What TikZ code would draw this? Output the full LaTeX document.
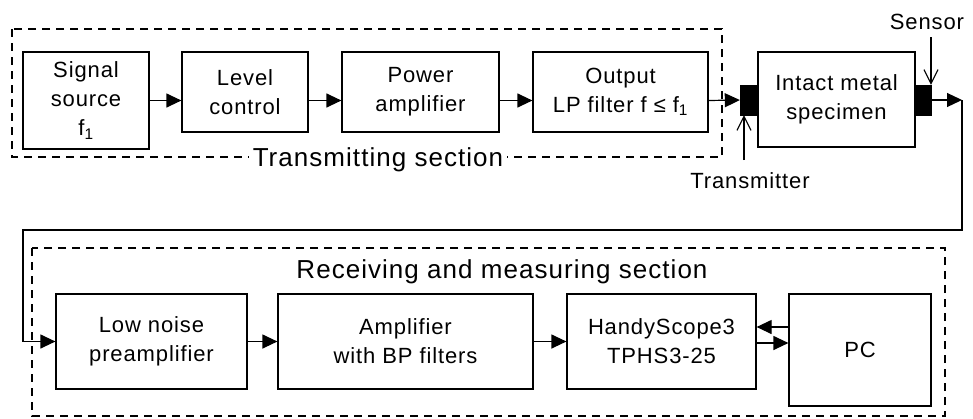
\documentclass[tikz,border=0pt]{standalone}
\usepackage{fontspec}
\setmainfont{Liberation Sans}[LetterSpace=4]
\usetikzlibrary{arrows.meta}
\begin{document}
\begin{tikzpicture}[x=1pt,y=-1pt,
  blk/.style={draw,line width=1.2pt,inner sep=0pt,align=center,font=\fontsize{22}{29}\selectfont},
  sensr/.style={draw,fill=black,inner sep=0pt},
  sect/.style={draw,dashed,line width=1.1pt,dash pattern=on 8pt off 6pt},
  arr/.style={line width=1.2pt,-{Triangle[length=15pt,width=14pt]}},
  barb/.style={line width=1.1pt,-{Straight Barb[length=14pt,width=14pt]}},
  lbl/.style={font=\fontsize{22}{29}\selectfont,inner sep=2pt},
  slbl/.style={font=\fontsize{26}{30}\selectfont,inner sep=4pt}]
\useasboundingbox (0,0) rectangle (973,418);
% sections
\draw[sect] (12,29) rectangle (722,157);
\draw[sect] (32,248) rectangle (945,416);
\node[slbl,fill=white,anchor=base] (tsec) at (378,166) {Transmitting section};
\node[slbl,anchor=base] (rsec) at (502,278) {Receiving and measuring section};
% top row
\node[blk,minimum width=126pt,minimum height=97pt] (sig) at (86,100.5) {Signal\\source\\f\textsubscript{1}};
\node[blk,minimum width=126pt,minimum height=80pt] (lev) at (245,92) {Level\\control};
\node[blk,minimum width=157pt,minimum height=80pt] (pow) at (420.5,92) {Power\\amplifier};
\node[blk,minimum width=175pt,minimum height=80pt] (out) at (620.5,92) {Output\\LP filter f ≤ f\textsubscript{1}};
\node[blk,minimum width=157pt,minimum height=95pt] (spec) at (836.5,99.5) {Intact metal\\specimen};
\node[sensr,minimum width=18pt,minimum height=30pt] (tx) at (749,100) {};
\node[sensr,minimum width=16pt,minimum height=30pt] (sen) at (923,100) {};
\node[lbl,anchor=base] (txl) at (750,188) {Transmitter};
\node[lbl,anchor=base] (senl) at (927,29) {Sensor};
% bottom row
\node[blk,minimum width=191pt,minimum height=95pt] (low) at (151.5,341.5) {Low noise\\preamplifier};
\node[blk,minimum width=255pt,minimum height=95pt] (amp) at (405.5,341.5) {Amplifier\\with BP filters};
\node[blk,minimum width=189pt,minimum height=95pt] (hs) at (661.5,341.5) {HandyScope3\\TPHS3-25};
\node[blk,minimum width=142pt,minimum height=112pt] (pc) at (860,350) {PC};
% connectors
\draw[arr] (sig.east) -- (sig.east -| lev.west);
\draw[arr] (lev.east |- sig.east) -- (pow.west |- sig.east);
\draw[arr] (pow.east |- sig.east) -- (out.west |- sig.east);
\draw[arr] (out.east |- sig.east) -- (tx.west);
\coordinate (c1) at (962,100);
\coordinate (c3) at (23,230);
\draw[arr] (sen.east) -- (c1);
\draw[arr] (c1) |- (c3) |- (low.west);
\draw[arr] (low.east) -- (amp.west);
\draw[arr] (amp.east) -- (hs.west);
\draw[arr] ([yshift=-1.5pt]hs.east) -- ([yshift=-1.5pt]hs.east -| pc.west);
\draw[arr] ([yshift=14.5pt]pc.west |- hs.east) -- ([yshift=14.5pt]hs.east);
\coordinate (tb) at (744,160);
\draw[barb] (tb) -- (tb |- tx.south);
\coordinate (sb) at (931,37);
\draw[barb] (sb) -- (sb |- sen.north);
\end{tikzpicture}
\end{document}
